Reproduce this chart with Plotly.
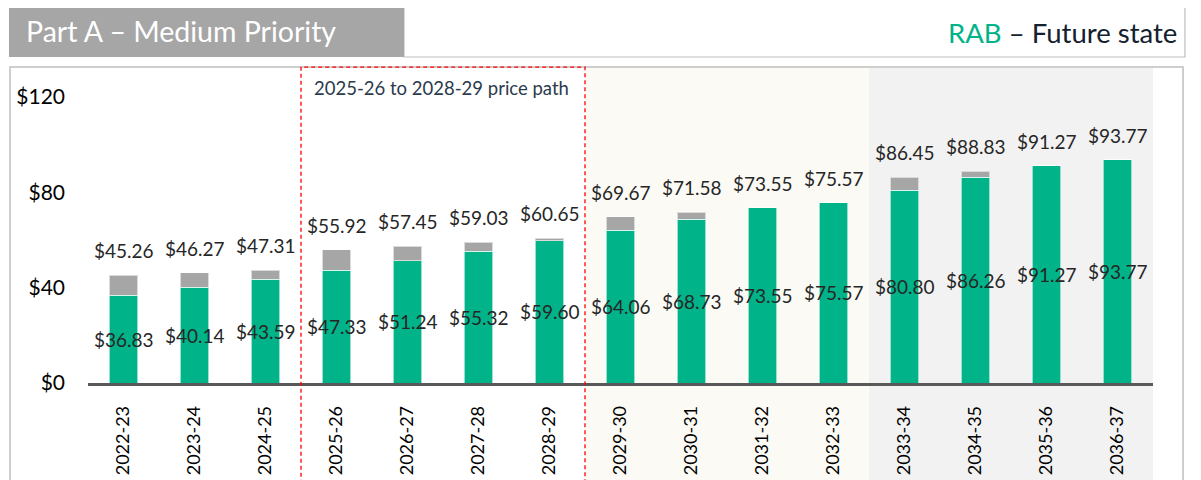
import plotly.graph_objects as go

# values
years = ['2022-23', '2023-24', '2024-25', '2025-26', '2026-27', '2027-28', '2028-29',
         '2029-30', '2030-31', '2031-32', '2032-33', '2033-34', '2034-35', '2035-36', '2036-37']
rab = [36.83, 40.14, 43.59, 47.33, 51.24, 55.32, 59.60, 64.06, 68.73, 73.55, 75.57,
       80.80, 86.26, 91.27, 93.77]
total = [45.26, 46.27, 47.31, 55.92, 57.45, 59.03, 60.65, 69.67, 71.58, 73.55, 75.57,
         86.45, 88.83, 91.27, 93.77]
y_ticks = [0, 40, 80, 120]

green = '#00B388'
grey = '#A6A6A6'
font = 'Lato'

other = [round(t - r, 2) for t, r in zip(total, rab)]

fig = go.Figure()
fig.add_trace(go.Bar(x=years, y=rab, marker=dict(color=green, line=dict(color='rgba(255,255,255,0.6)', width=1)),
                     width=0.4, hoverinfo='skip'))
fig.add_trace(go.Bar(x=years, y=other, marker=dict(color=grey, line=dict(color='rgba(255,255,255,0.6)', width=1)),
                     width=0.4, hoverinfo='skip'))

# data labels
for yr, r, t in zip(years, rab, total):
    fig.add_annotation(x=yr, y=t, text=f'${t:.2f}', showarrow=False, yanchor='bottom', yshift=11,
                       font=dict(family=font, size=19, color='#262626'))
    fig.add_annotation(x=yr, y=r / 2, text=f'${r:.2f}', showarrow=False, yanchor='middle',
                       font=dict(family=font, size=19, color='#262626'))

# period bands (paper coords: category boundaries at 3/15, 7/15, 11/15)
fig.add_shape(type='rect', xref='paper', yref='paper', x0=7/15, x1=11/15, y0=-0.35, y1=1.0,
              fillcolor='#FBFAF5', line_width=0, layer='below')
fig.add_shape(type='rect', xref='paper', yref='paper', x0=11/15, x1=1.0, y0=-0.35, y1=1.0,
              fillcolor='#F2F2F2', line_width=0, layer='below')
fig.add_shape(type='rect', xref='paper', yref='paper', x0=3/15, x1=7/15, y0=-0.35, y1=1.003,
              line=dict(color='#FF0000', width=1.3, dash='4px,3px'), layer='above')
fig.add_annotation(xref='paper', yref='paper', x=3/15 + 0.010, y=0.935, text='2025-26 to 2028-29 price path',
                   showarrow=False, xanchor='left', yanchor='middle',
                   font=dict(family=font, size=18.5, color='#2B3A4C'))

# outer panel border
fig.add_shape(type='path', xref='paper', yref='paper',
              path='M -0.0732,-0.35 L -0.0732,1.0032 L 1.0282,1.0032 L 1.0282,-0.35',
              line=dict(color='#BFBFBF', width=1.5), layer='below')

# header boxes
fig.add_shape(type='rect', xref='paper', yref='paper', x0=0.2967, x1=1.0300, y0=1.0349, y1=1.2000,
              fillcolor='white', line=dict(color='#BFBFBF', width=1.2))
fig.add_shape(type='rect', xref='paper', yref='paper', x0=-0.0742, x1=0.2967, y0=1.0349, y1=1.2032,
              fillcolor='#A6A6A6', line_width=0)
fig.add_annotation(xref='paper', yref='paper', x=-0.0600, y=1.118, text='Part A – Medium Priority',
                   showarrow=False, xanchor='left', yanchor='middle',
                   font=dict(family=font, size=28.5, color='white'))
fig.add_annotation(xref='paper', yref='paper', x=1.0245, y=1.112,
                   text=f"<span style='color:{green}'>RAB</span> – Future state",
                   showarrow=False, xanchor='right', yanchor='middle',
                   font=dict(family=font, size=27.5, color='#14212E'))

# the page body adds an 8px offset, so everything is shifted up/left by 8px
fig.update_layout(
    width=1193, height=472,
    margin=dict(l=80, r=48, t=60, b=97),
    barmode='stack', showlegend=False,
    paper_bgcolor='white', plot_bgcolor='rgba(0,0,0,0)',
)
fig.update_xaxes(type='category', range=[-0.5, 14.5], tickangle=-90, showgrid=False, zeroline=False,
                 showline=True, linecolor='#595959', linewidth=2.5, ticks='', automargin=False,
                 ticklabelstandoff=13, tickfont=dict(family=font, size=18, color='black'))
fig.update_yaxes(range=[0, 132.2], tickvals=y_ticks, ticktext=[f'${v}' for v in y_ticks],
                 showgrid=False, zeroline=False, showline=False, ticks='', ticklabelstandoff=22,
                 automargin=False, tickfont=dict(family=font, size=21, color='black'))

fig.write_html('out.html')
